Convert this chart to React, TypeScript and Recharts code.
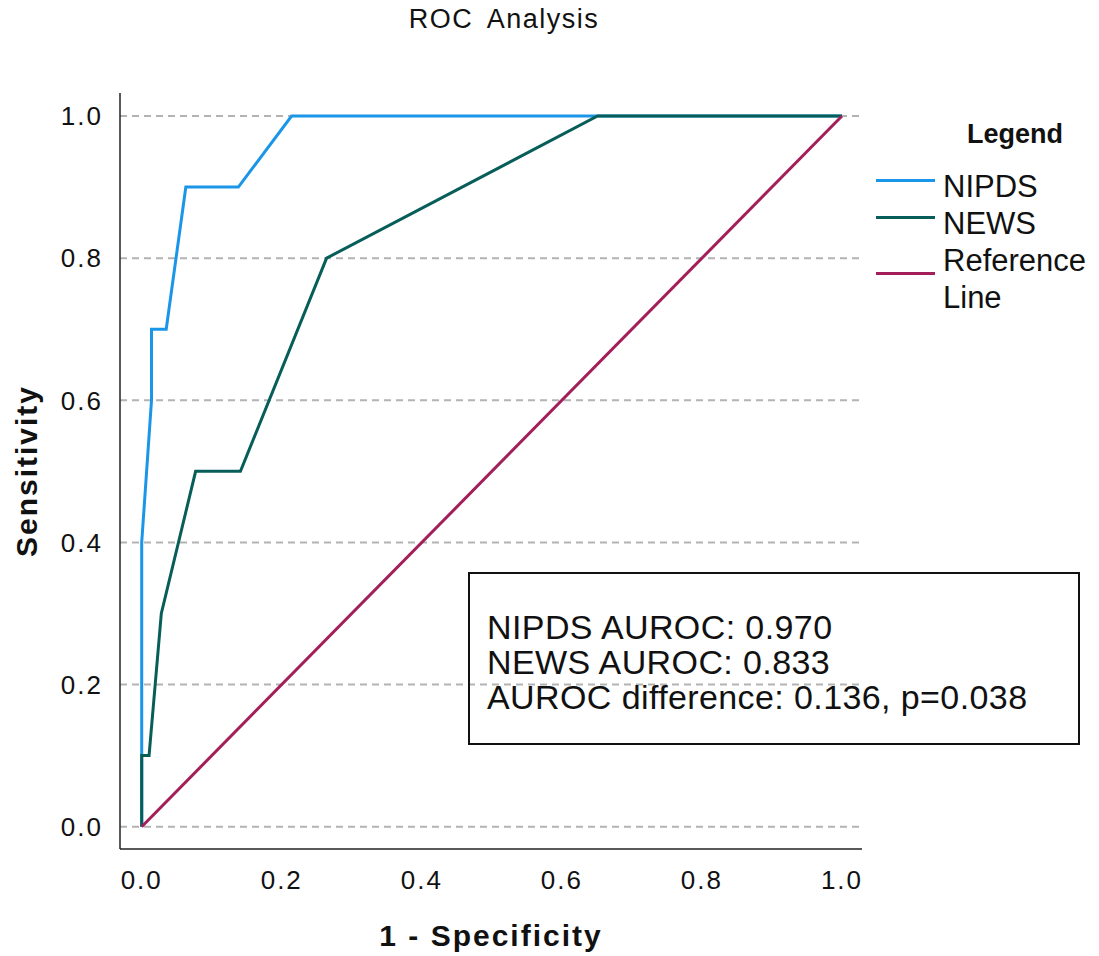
import React from 'react';
import { LineChart, Line, XAxis, YAxis, CartesianGrid } from 'recharts';

const FONT = '"Liberation Sans", Arial, Helvetica, sans-serif';

// ROC points: x = 1 - specificity, y = sensitivity
const nipdsFpr = [0, 0, 0.014, 0.014, 0.035, 0.063, 0.138, 0.214, 1.0];
const nipdsTpr = [0, 0.4, 0.6, 0.7, 0.7, 0.9, 0.9, 1.0, 1.0];
const newsFpr = [0, 0, 0.0105, 0.028, 0.077, 0.141, 0.264, 0.651, 1.0];
const newsTpr = [0, 0.1, 0.1, 0.3, 0.5, 0.5, 0.8, 1.0, 1.0];
const refFpr = [0, 1];
const refTpr = [0, 1];

const axisTicks = [0, 0.2, 0.4, 0.6, 0.8, 1.0];
const statLines = ['NIPDS AUROC: 0.970', 'NEWS AUROC: 0.833', 'AUROC difference: 0.136, p=0.038'];

const toPoints = (xs: number[], ys: number[]) => xs.map((x, i) => ({ x, y: ys[i] }));

const series = [
  { name: 'NIPDS', color: '#1a96e8', data: toPoints(nipdsFpr, nipdsTpr) },
  { name: 'NEWS', color: '#075e59', data: toPoints(newsFpr, newsTpr) },
  { name: 'Reference Line', color: '#a31f5a', data: toPoints(refFpr, refTpr) },
];

const tickStyle = { fill: '#111', fontSize: 26, fontFamily: FONT, letterSpacing: 2 };
const axisLineStyle = { stroke: '#222', strokeWidth: 1.5 };

function YTitle(props: any) {
  const vb = props.viewBox || { x: 20, y: 93, height: 756 };
  const cx = vb.x + 6;
  const cy = vb.y + vb.height / 2;
  return (
    <text
      x={cx}
      y={cy}
      transform={`rotate(-90 ${cx} ${cy})`}
      textAnchor="middle"
      dominantBaseline="central"
      fontFamily={FONT}
      fontWeight="bold"
      fontSize={30}
      letterSpacing={2}
      fill="#111"
    >
      Sensitivity
    </text>
  );
}

function LegendBox() {
  return (
    <div style={{ position: 'absolute', left: 876, top: 121, fontFamily: FONT, color: '#111' }}>
      <div style={{ marginLeft: 91, fontSize: 27, fontWeight: 'bold', lineHeight: '27px', marginBottom: 20 }}>
        Legend
      </div>
      {series.map((s) => (
        <div key={s.name} style={{ display: 'flex', alignItems: 'center' }}>
          <div style={{ width: 59, height: 3, background: s.color, marginBottom: 12, flexShrink: 0 }} />
          <div style={{ marginLeft: 8, width: 150, fontSize: 31, lineHeight: '37px' }}>{s.name}</div>
        </div>
      ))}
    </div>
  );
}

function StatsBox() {
  return (
    <div
      style={{
        position: 'absolute',
        left: 468,
        top: 572,
        width: 612,
        height: 173,
        border: '2px solid #111',
        boxSizing: 'border-box',
        fontFamily: FONT,
        fontSize: 34,
        letterSpacing: 0.4,
        lineHeight: '35px',
        color: '#111',
        paddingTop: 36,
        paddingLeft: 17,
      }}
    >
      {statLines.map((t) => (
        <div key={t} style={{ whiteSpace: 'nowrap', height: 35 }}>{t}</div>
      ))}
    </div>
  );
}

export default function App() {
  return (
    <div style={{ position: 'absolute', left: 0, top: 0, width: 1099, height: 956, background: '#fff' }}>
      <div
        style={{
          position: 'absolute',
          left: 204,
          top: 6,
          width: 600,
          textAlign: 'center',
          fontFamily: FONT,
          fontSize: 27,
          lineHeight: '27px',
          letterSpacing: 1.5,
          wordSpacing: 6,
          color: '#111',
        }}
      >
        ROC Analysis
      </div>
      <LineChart width={1099} height={956} margin={{ top: 93, right: 237, bottom: 47, left: 20 }}>
        <CartesianGrid
          vertical={false}
          horizontalValues={axisTicks}
          stroke="#b3b3b3"
          strokeWidth={2}
          strokeDasharray="7 5"
        />
        <XAxis
          type="number"
          dataKey="x"
          domain={[-0.031, 1.0286]}
          ticks={axisTicks}
          allowDataOverflow
          tickFormatter={(v: number) => v.toFixed(1)}
          height={60}
          tickLine={false}
          tickSize={0}
          tickMargin={22}
          axisLine={axisLineStyle}
          tick={tickStyle}
          label={{
            value: '1 - Specificity',
            position: 'bottom',
            offset: 16,
            style: { fontFamily: FONT, fontWeight: 'bold', fontSize: 30, letterSpacing: 2, fill: '#111' },
          }}
        />
        <YAxis
          type="number"
          dataKey="y"
          domain={[-0.0314, 1.0324]}
          ticks={axisTicks}
          allowDataOverflow
          tickFormatter={(v: number) => v.toFixed(1)}
          width={100}
          tickLine={false}
          tickSize={0}
          tickMargin={17}
          axisLine={axisLineStyle}
          tick={tickStyle}
          label={{ content: (p: any) => <YTitle {...p} /> }}
        />
        {series.map((s) => (
          <Line
            key={s.name}
            data={s.data}
            dataKey="y"
            name={s.name}
            type="linear"
            stroke={s.color}
            strokeWidth={3}
            dot={false}
            activeDot={false}
            isAnimationActive={false}
          />
        ))}
      </LineChart>
      <LegendBox />
      <StatsBox />
    </div>
  );
}
